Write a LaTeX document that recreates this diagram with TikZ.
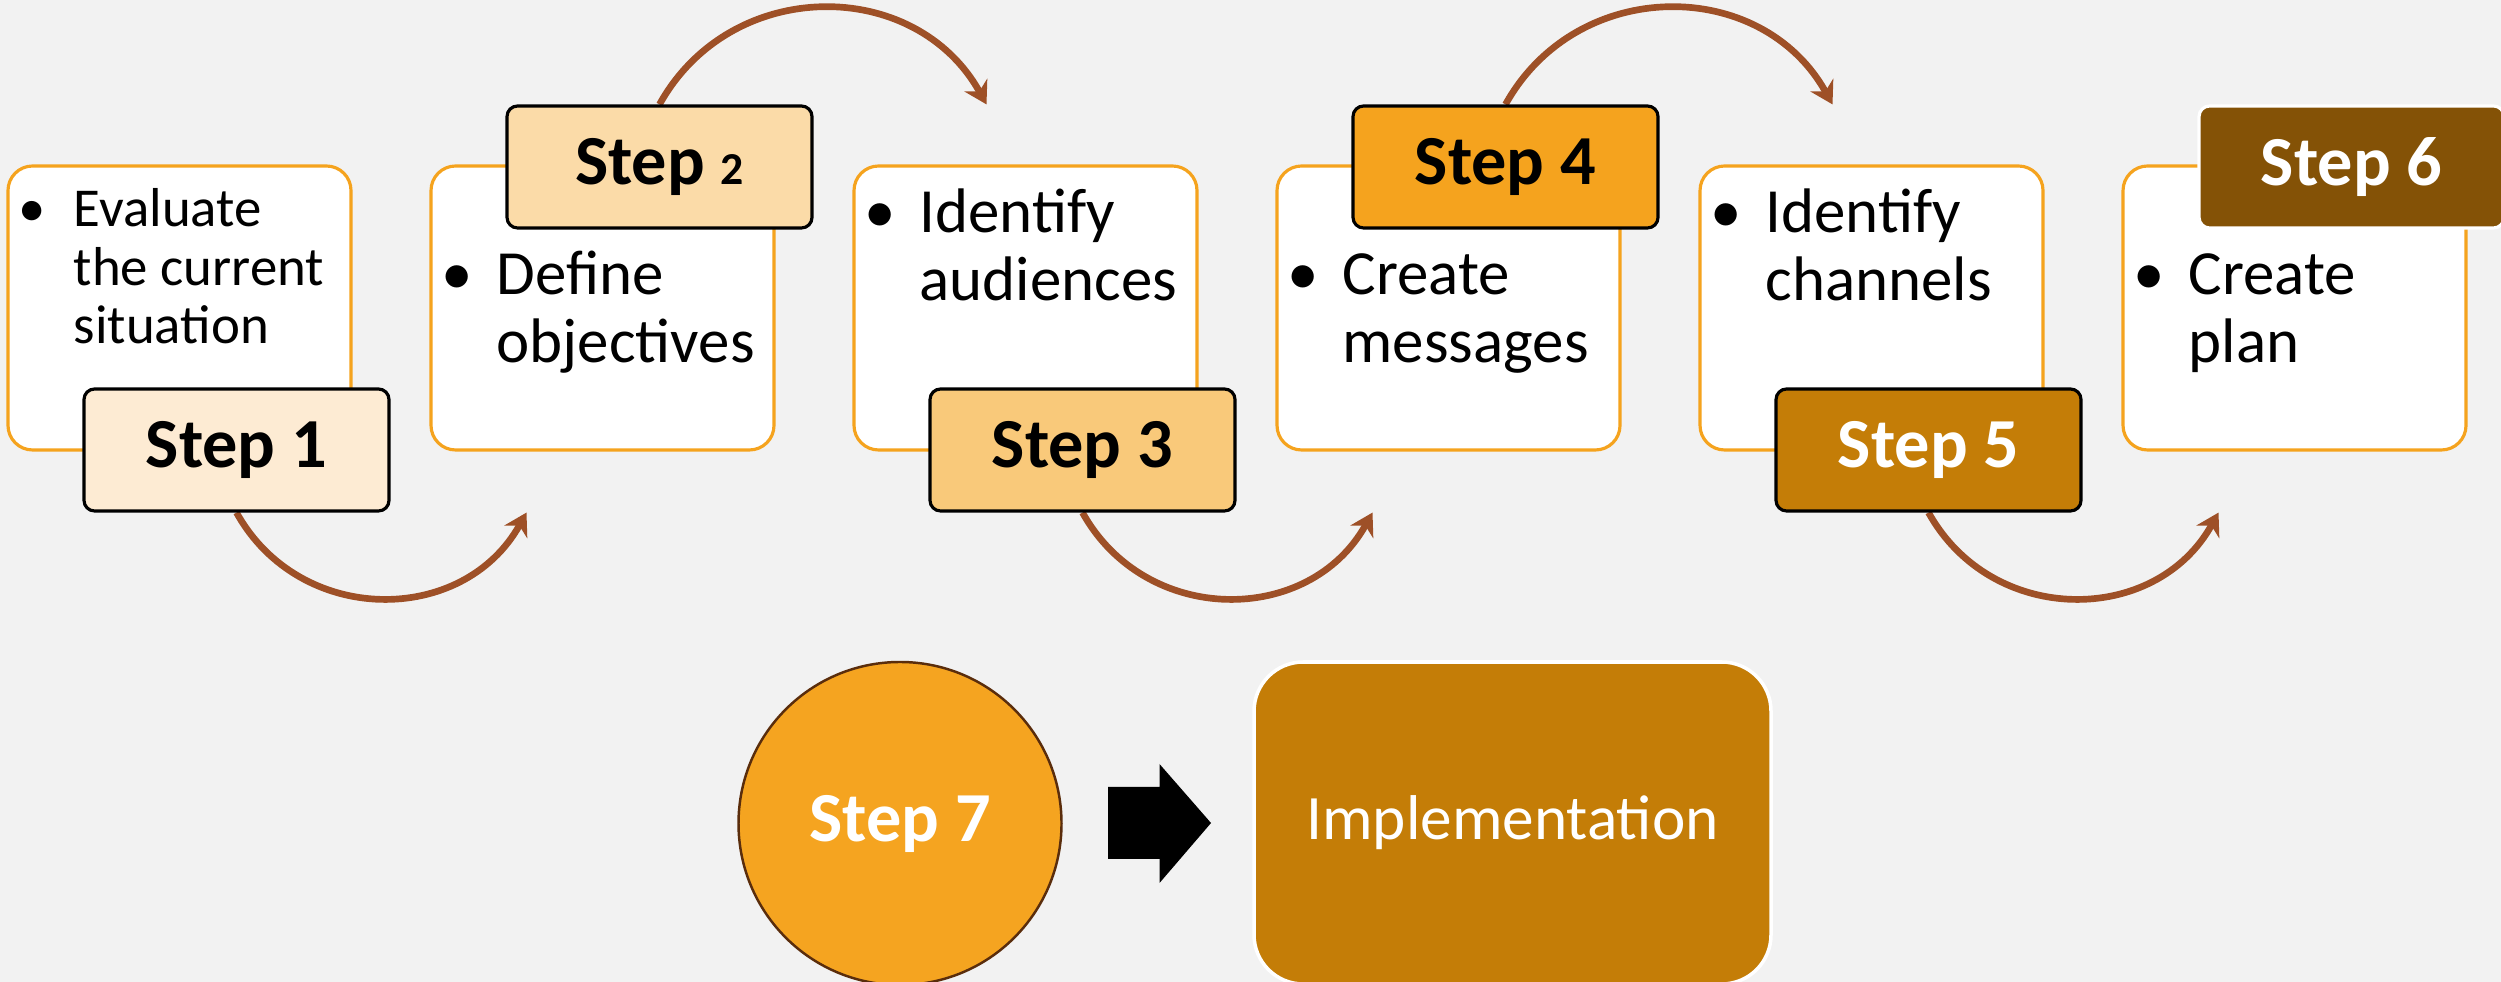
\documentclass[tikz,border=0pt]{standalone}
\usepackage{fontspec}
\setmainfont{Carlito}
\usetikzlibrary{positioning,calc,arrows.meta,backgrounds}
\usepackage{xcolor}
\definecolor{bggray}{HTML}{F2F2F2}
\definecolor{boxorange}{HTML}{F5A31E}
\definecolor{arcbrown}{HTML}{9E5027}
\definecolor{stepA}{HTML}{FDEBD3}
\definecolor{stepB}{HTML}{FBDBA8}
\definecolor{stepC}{HTML}{F9C97A}
\definecolor{stepD}{HTML}{F5A31E}
\definecolor{stepE}{HTML}{C47D07}
\definecolor{stepF}{HTML}{845206}
\definecolor{circorange}{HTML}{F5A420}
\definecolor{circborder}{HTML}{5A2D0C}
\newcommand{\bulletlines}[1]{\makebox[0.55cm][l]{\textbullet}\parbox[t]{2.8cm}{\raggedright #1}}

\begin{document}
\begin{tikzpicture}[
    panel/.style={draw=boxorange,line width=0.9pt,fill=white,rounded corners=7pt,minimum width=3.43cm,minimum height=2.84cm},
    stepbox/.style={draw=black,line width=0.9pt,rounded corners=3pt,minimum width=3.05cm,minimum height=1.22cm,font=\fontsize{20}{24}\selectfont\bfseries},
    bullettext/.style={anchor=base west,inner sep=0pt,font=\fontsize{17.9}{19.1}\selectfont},
    flowarc/.style={draw=arcbrown,line width=1.9pt,-{Stealth[length=2.2mm,width=2.6mm]}}
  ]
    \useasboundingbox (0,0) rectangle (25.01,9.82);
    \begin{scope}[on background layer]
      \fill[bggray] (0,0) rectangle (25.01,9.82);
    \end{scope}

    % Panels with the bullet texts
    \node[panel] (p1) at (1.795,6.74) {};
    \node[panel] (p2) at (6.025,6.74) {};
    \node[panel] (p3) at (10.255,6.74) {};
    \node[panel] (p4) at (14.485,6.74) {};
    \node[panel] (p5) at (18.715,6.74) {};
    \node[panel] (p6) at (22.945,6.74) {};

    \node[bullettext,font=\fontsize{15.6}{16.6}\selectfont] (t1) at (0.18,7.55) {\bulletlines{Evaluate\\the current\\situation}};
    \node[bullettext] (t2) at (4.41,6.87) {\bulletlines{Define\\objectives}};
    \node[bullettext] (t3) at (8.64,7.49) {\bulletlines{Identify\\audiences}};
    \node[bullettext] (t4) at (12.87,6.87) {\bulletlines{Create\\messages}};
    \node[bullettext] (t5) at (17.10,7.49) {\bulletlines{Identify\\channels}};
    \node[bullettext] (t6) at (21.33,6.87) {\bulletlines{Create\\plan}};

    % Step labels, odd ones on the lower edge, even ones on the upper edge
    \node[stepbox,fill=stepA] (s1) at (2.365,5.32) {Step 1};
    \node[stepbox,fill=stepB] (s2) at (6.595,8.15) {Step {\fontsize{13}{15}\selectfont 2}};
    \node[stepbox,fill=stepC] (s3) at (10.825,5.32) {Step 3};
    \node[stepbox,fill=stepD] (s4) at (15.055,8.15) {Step 4};
    \node[stepbox,fill=stepE,text=white] (s5) at (19.285,5.32) {Step 5};
    \node[stepbox,fill=stepF,draw=white,text=white] (s6) at (23.515,8.15) {Step 6};

    % Curved arrows between the steps
    \coordinate (e1) at ($(s1.south)+(2.90,0)$);
    \coordinate (e2) at ($(s2.north)+(3.27,0)$);
    \coordinate (e3) at ($(s3.south)+(2.90,0)$);
    \coordinate (e4) at ($(s4.north)+(3.27,0)$);
    \coordinate (e5) at ($(s5.south)+(2.90,0)$);
    \begin{scope}[on background layer]
      \draw[flowarc] (s1.south) to[out=-61,in=-119,looseness=1.15] (e1);
      \draw[flowarc] (s2.north) to[out=61,in=119,looseness=1.15] (e2);
      \draw[flowarc] (s3.south) to[out=-61,in=-119,looseness=1.15] (e3);
      \draw[flowarc] (s4.north) to[out=61,in=119,looseness=1.15] (e4);
      \draw[flowarc] (s5.south) to[out=-61,in=-119,looseness=1.15] (e5);
    \end{scope}

    % Step 7 and implementation
    \node[circle,fill=circorange,draw=circborder,line width=0.7pt,minimum size=3.23cm,text=white,font=\fontsize{20}{24}\selectfont\bfseries] (s7) at (9.00,1.585) {Step 7};
    \node[draw=white,line width=1pt,fill=stepE,rounded corners=14pt,minimum width=5.17cm,minimum height=3.22cm,text=white,font=\fontsize{18}{22}\selectfont] (impl) at (15.125,1.59) {Implementation};
    \fill[black] (11.08,1.95) -- (11.595,1.95) -- (11.595,2.18) -- (12.11,1.59) -- (11.595,0.99) -- (11.595,1.23) -- (11.08,1.23) -- cycle;
\end{tikzpicture}
\end{document}
